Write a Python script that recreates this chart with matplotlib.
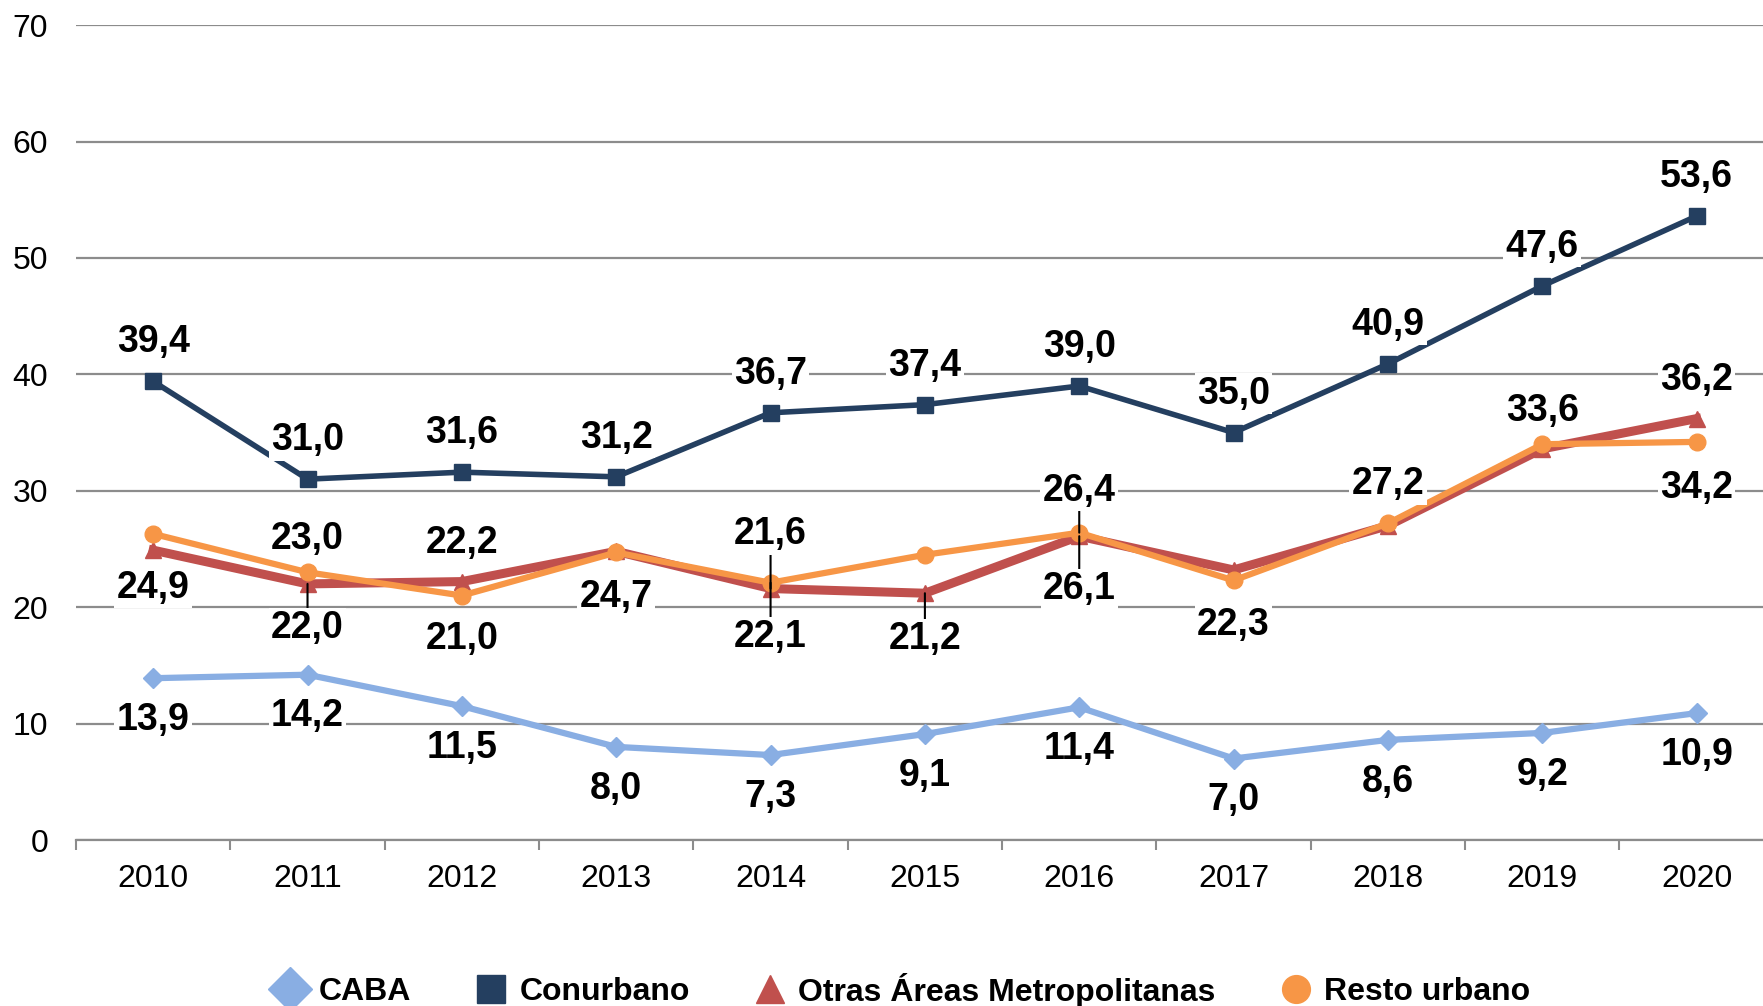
import numpy as np
import matplotlib.pyplot as plt
from matplotlib.lines import Line2D

plt.rcParams['font.family'] = ['Liberation Sans', 'DejaVu Sans']

# Datos
years = ['2010', '2011', '2012', '2013', '2014', '2015', '2016', '2017', '2018', '2019', '2020']
caba = [13.9, 14.2, 11.5, 8.0, 7.3, 9.1, 11.4, 7.0, 8.6, 9.2, 10.9]
conurbano = [39.4, 31.0, 31.6, 31.2, 36.7, 37.4, 39.0, 35.0, 40.9, 47.6, 53.6]
otras = [24.9, 22.0, 22.2, 24.8, 21.6, 21.2, 26.1, 23.2, 27.0, 33.6, 36.2]
resto = [26.3, 23.0, 21.0, 24.7, 22.1, 24.5, 26.4, 22.3, 27.2, 34.0, 34.2]

# Etiquetas de datos: índice -> texto
lab_caba = {0: '13,9', 1: '14,2', 2: '11,5', 3: '8,0', 4: '7,3', 5: '9,1',
            6: '11,4', 7: '7,0', 8: '8,6', 9: '9,2', 10: '10,9'}
lab_conurbano = {0: '39,4', 1: '31,0', 2: '31,6', 3: '31,2', 4: '36,7', 5: '37,4',
                 6: '39,0', 7: '35,0', 8: '40,9', 9: '47,6', 10: '53,6'}
lab_otras = {0: '24,9', 1: '22,0', 2: '22,2', 4: '21,6', 5: '21,2', 6: '26,1',
             9: '33,6', 10: '36,2'}
lab_resto = {1: '23,0', 2: '21,0', 3: '24,7', 4: '22,1', 6: '26,4', 7: '22,3',
             8: '27,2', 10: '34,2'}

# posición de etiqueta (offset vertical en puntos) y si lleva línea guía
pos_otras = {0: (-27, False), 1: (-32, True), 2: (28, False), 4: (39, True),
             5: (-33, True), 6: (-38, True), 9: (27, False), 10: (28, False)}
pos_resto = {1: (24, False), 2: (-31, False), 3: (-32, False), 4: (-39, True),
             6: (30, True), 7: (-32, False), 8: (28, False), 10: (-33, False)}

c_caba = '#89AEE3'
c_con = '#243F60'
c_otras = '#C0504D'
c_resto = '#F79646'
grid_c = '#8C8C8C'

fig = plt.figure(figsize=(17.63, 10.06), dpi=100)
ax = fig.add_axes([76 / 1763, 0.165, 1 - 76 / 1763, 0.81])

x = np.arange(len(years))
ax.plot(x, caba, color=c_caba, lw=4.5, marker='D', ms=10, zorder=3)
ax.plot(x, conurbano, color=c_con, lw=4, marker='s', ms=12, zorder=3)
ax.plot(x, otras, color=c_otras, lw=6.5, marker='^', ms=12, zorder=3)
ax.plot(x, resto, color=c_resto, lw=4.5, marker='o', ms=12, zorder=4)

box = dict(boxstyle='square,pad=0.06', fc='white', ec='none')


def put(i, val, txt, dy, leader=False):
    arrow = None
    if leader:
        arrow = dict(arrowstyle='-', color='black', lw=1.5, shrinkA=0, shrinkB=0)
    ax.annotate(txt, (i, val), xytext=(0, dy), textcoords='offset points',
                ha='center', va='center', fontsize=27, fontweight='bold',
                bbox=box, arrowprops=arrow, zorder=6)


for i, t in lab_caba.items():
    put(i, caba[i], t, -30)
for i, t in lab_conurbano.items():
    put(i, conurbano[i], t, 28)
for i, t in lab_otras.items():
    put(i, otras[i], t, pos_otras[i][0], pos_otras[i][1])
for i, t in lab_resto.items():
    put(i, resto[i], t, pos_resto[i][0], pos_resto[i][1])

ax.set_yticks(range(0, 71, 10))
ax.set_xticks(x)
ax.set_xticklabels(years)
ax.set_xticks(np.arange(-0.5, 10.6, 1), minor=True)
ax.set_ylim(0, 70)
ax.set_xlim(-0.5, 10.43)
ax.tick_params(axis='x', which='major', length=0, labelsize=23, pad=17)
ax.tick_params(axis='x', which='minor', length=7, width=1.5, color=grid_c, direction='out')
ax.tick_params(axis='y', length=0, labelsize=23, pad=20)

ax.grid(axis='y', color=grid_c, lw=1.6)
ax.set_axisbelow(True)
for s in ['top', 'right', 'left']:
    ax.spines[s].set_visible(False)
ax.spines['bottom'].set_color(grid_c)
ax.spines['bottom'].set_linewidth(1.6)

handles = [
    Line2D([], [], ls='none', marker='D', ms=22, color=c_caba),
    Line2D([], [], ls='none', marker='s', ms=20, color=c_con),
    Line2D([], [], ls='none', marker='^', ms=20, color=c_otras),
    Line2D([], [], ls='none', marker='o', ms=20, color=c_resto),
]
names = ['CABA', 'Conurbano', 'Otras Áreas Metropolitanas', 'Resto urbano']
fig.legend(handles, names, loc='center', bbox_to_anchor=(902 / 1763, 1 - 990 / 1006),
           ncol=4, frameon=False, prop={'size': 23, 'weight': 'bold'},
           handlelength=1.0, handletextpad=0.4, columnspacing=2.0)

fig.savefig('out.png', dpi=100)
